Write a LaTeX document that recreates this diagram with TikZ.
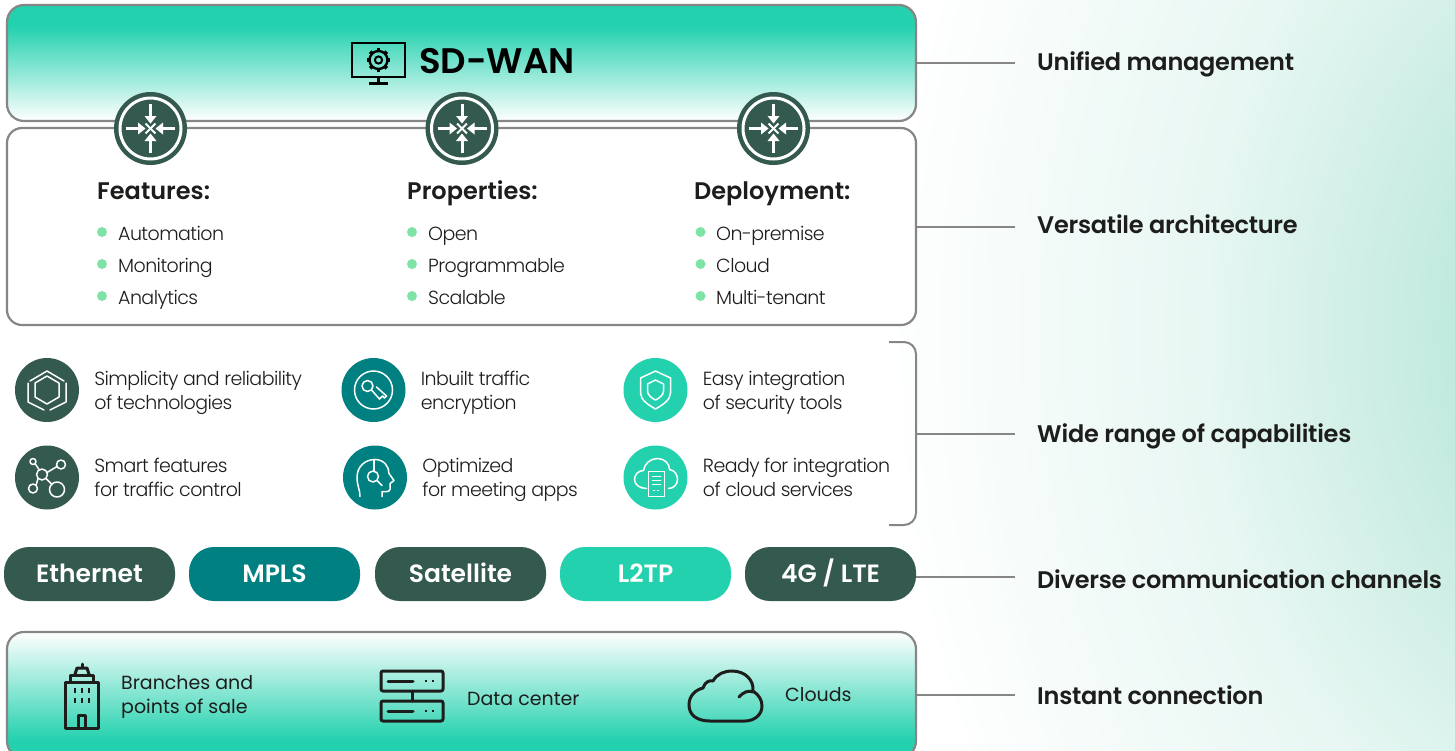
\documentclass[tikz,border=0pt]{standalone}
\usepackage{fontspec}
\setmainfont{Poppins}[UprightFont=* Light,BoldFont=* SemiBold]
\newfontfamily\bodyfont{Poppins}[UprightFont=* Light,LetterSpace=-3]
\newfontfamily\labelfont{Poppins}[UprightFont=* SemiBold,LetterSpace=-1]
\newfontfamily\midfont{Poppins}
\usetikzlibrary{positioning}
\definecolor{darkgreen}{HTML}{34594F}
\definecolor{tealgreen}{HTML}{008080}
\definecolor{mintgreen}{HTML}{23D1AE}
\definecolor{bulletgreen}{HTML}{7FE3A8}
\definecolor{linegray}{HTML}{868686}
\definecolor{inkblack}{HTML}{1D1D1B}
\definecolor{glowmint}{HTML}{A4E0CF}
\definecolor{glowpale}{HTML}{E8F7F3}
\pgfdeclareverticalshading{fadedown}{100bp}{color(0bp)=(white); color(25bp)=(white); color(66bp)=(mintgreen); color(100bp)=(mintgreen)}
\pgfdeclareverticalshading{fadeup}{100bp}{color(0bp)=(mintgreen); color(32bp)=(mintgreen); color(75bp)=(white); color(100bp)=(white)}
\pgfdeclareradialshading{backglow}{\pgfpoint{0bp}{0bp}}{color(0bp)=(glowmint); color(14.5bp)=(glowpale); color(25bp)=(white); color(50bp)=(white)}
\tikzset{
    panel/.style={draw=linegray, line width=2.2pt, rounded corners=15pt, minimum width=909pt, inner sep=0pt},
    leader/.style={draw=linegray, line width=2pt},
    channel/.style={rounded corners=25pt, minimum width=171pt, minimum height=54pt, inner sep=0pt, text height=16.5pt, text depth=0pt, text=white, font=\fontsize{25}{28}\selectfont\bfseries},
    capicon/.style={circle, minimum size=64pt, inner sep=0pt},
    router/.style={circle, fill=darkgreen, minimum size=73pt, inner sep=0pt},
    captext/.style={right=15pt of #1, yshift=-2.5pt, inner sep=0pt, align=left, text=inkblack, font=\fontsize{19}{24}\selectfont\bodyfont},
    heading/.style={anchor=base west, inner sep=0pt, text=inkblack, font=\fontsize{24}{28}\selectfont\bfseries},
    item/.style={anchor=base west, inner sep=0pt, text=inkblack, font=\fontsize{19}{24}\selectfont\bodyfont},
    bullet/.style={circle, fill=bulletgreen, minimum size=10pt, inner sep=0pt},
    sidelabel/.style={anchor=base west, inner sep=0pt, text=inkblack, font=\fontsize{24}{28}\selectfont\labelfont},
    sitetext/.style={anchor=base west, inner sep=0pt, align=left, text=inkblack, font=\fontsize{19}{24}\selectfont\midfont},
    iconline/.style={draw=white, line width=1.5pt, line join=round, line cap=round},
    siteline/.style={draw=inkblack, line width=3pt, line join=round, line cap=round},
    routerpic/.pic={
        \draw[white, line width=3pt] (0,0) circle[radius=30.5];
        \foreach \a in {0,90,180,270} {
            \draw[white, line width=3pt, rotate=\a] (24.5,0) -- (12,0);
            \fill[white, rotate=\a] (12.5,-6) -- (12.5,6) -- (5,0) -- cycle;
        }
        \foreach \a in {45,135,225,315}
            \draw[white, line width=2pt, rotate=\a] (0,0) -- (7,0);
    },
    hexpic/.pic={
        \draw[iconline] (0,-14) -- (12,-7) -- (12,7) -- (0,14) -- (-12,7) -- (-12,-7) -- cycle;
        \draw[iconline] (-17,-9) -- (0,-19) -- (17,-9);
        \draw[iconline] (-19,-7) -- (-19,12) -- (-3,20);
        \draw[iconline] (19,-7) -- (19,12) -- (3,20);
    },
    keypic/.pic={
        \draw[iconline] (0,0) circle[radius=19];
        \draw[iconline] (-6,-4) circle[radius=5.5];
        \draw[iconline] (-2,0) -- (6,9) -- (9,6) -- (11,8) -- (13,6) -- (3,-3);
    },
    netpic/.pic={
        \draw[iconline] (-5,-3) circle[radius=5.5];
        \draw[iconline] (-14,-16) circle[radius=3];
        \draw[iconline] (14,-13) circle[radius=4.5];
        \draw[iconline] (-14,11) circle[radius=4.5];
        \draw[iconline] (10,12) circle[radius=7.5];
        \draw[iconline] (-8,-8) -- (-12,-14);
        \draw[iconline] (0,-5) -- (10,-11);
        \draw[iconline] (-9,1) -- (-11,8);
        \draw[iconline] (-1,1) -- (5,7);
    },
    headpic/.pic={
        \draw[iconline] (-15,19) .. controls (-15,12) and (-18,8) .. (-18,0) .. controls (-18,-11) and (-10,-18) .. (0,-18) .. controls (9,-18) and (14,-11) .. (14,-4) -- (19,3) -- (15,6) -- (15,12) .. controls (14,15) and (10,14) .. (7,14) -- (7,19);
        \draw[iconline] (-1,-18) -- (-1,-6);
        \draw[iconline] (-2,-1) circle[radius=5.5];
        \draw[iconline] (2,3) -- (7,8);
    },
    shieldpic/.pic={
        \draw[iconline] (0,-19) -- (15,-12) -- (15,3) .. controls (15,10) and (7,15) .. (0,19) .. controls (-7,15) and (-15,10) .. (-15,3) -- (-15,-12) -- cycle;
        \draw[iconline] (0,-10) -- (8,-6) -- (8,1) .. controls (8,5) and (4,8) .. (0,10) .. controls (-4,8) and (-8,5) .. (-8,1) -- (-8,-6) -- cycle;
    },
    cloudpic/.pic={
        \draw[iconline] (-9,11) .. controls (-16,11) and (-21,7) .. (-21,2) .. controls (-21,-3) and (-17,-7) .. (-12,-7) .. controls (-11,-14) and (-5,-19) .. (2,-19) .. controls (9,-19) and (14,-14) .. (14,-8) .. controls (20,-7) and (22,-2) .. (22,2) .. controls (22,7) and (18,11) .. (13,11);
        \draw[iconline, fill=mintgreen] (-7,-6) rectangle (9,19);
        \draw[iconline] (-3,-1) -- (5,-1) (-3,3) -- (5,3) (-3,7) -- (5,7) (-2,13) -- (-1,13) (2,13) -- (3,13);
    },
    gearpic/.pic={
        \draw[black, line width=2.4pt] (0,0) circle[radius=9];
        \draw[black, line width=2pt] (0,0) circle[radius=3.6];
        \foreach \a in {0,45,...,315}
            \draw[black, line width=3.6pt, rotate=\a] (9,0) -- (11.8,0);
    },
}
\begin{document}
\begin{tikzpicture}[x=1pt, y=-1pt]
    \useasboundingbox (0,0) rectangle (1455,750);
    % page background
    \begin{scope}
        \clip (0,0) rectangle (1455,750);
        \fill[white] (0,0) rectangle (1455,750);
        \shade[shading=backglow] (1640,330) ellipse [x radius=760, y radius=1000];
    \end{scope}

    % the three panels
    \node [panel, shading=fadedown, minimum height=116pt, rounded corners=17pt] (sdwan) at (461.5,63) {};
    \node [panel, fill=white, minimum height=197pt] (stack) at (461.5,226.5) {};
    \begin{scope}
        \clip (0,600) rectangle (1455,750);
        \node [panel, shading=fadeup, minimum height=126pt, rounded corners=17pt] (sites) at (461.5,695) {};
    \end{scope}

    % title
    \node [anchor=base west, inner sep=0pt, font=\fontsize{35.5}{40}\selectfont\bfseries, text=black] (title) at (419,73) {SD-WAN};
    \draw[black, line width=2.6pt] (352,43) rectangle (405,77);
    \draw[black, line width=2.6pt] (378.5,77) -- (378.5,83) (369,83.5) -- (388,83.5);
    \pic at (378.5,60) {gearpic};

    % routers on the seam
    \node [router] (router1) at (150.5,128.5) {};
    \node [router] (router2) at (462,128.5) {};
    \node [router] (router3) at (773.5,128.5) {};
    \pic at (router1) {routerpic};
    \pic at (router2) {routerpic};
    \pic at (router3) {routerpic};

    % columns in the stack panel
    \node [heading] (features) at (97,199) {Features:};
    \node [heading] (properties) at (407,199) {Properties:};
    \node [heading] (deployment) at (694,199) {Deployment:};
    \foreach \x/\t/\tx/\a/\b/\c in {102/118/f/Automation/Monitoring/Analytics, 412/428/p/Open/Programmable/Scalable, 700.5/716/d/On-premise/Cloud/Multi-tenant} {
        \node [bullet] (bullet\tx1) at (\x,232) {};
        \node [bullet] (bullet\tx2) at (\x,264) {};
        \node [bullet] (bullet\tx3) at (\x,296) {};
        \node [item] (item\tx1) at (\t,240) {\a};
        \node [item] (item\tx2) at (\t,272) {\b};
        \node [item] (item\tx3) at (\t,304) {\c};
    }

    % capabilities
    \node [capicon, fill=darkgreen] (simple) at (47,390) {};
    \node [capicon, fill=tealgreen] (crypt) at (373.5,390) {};
    \node [capicon, fill=mintgreen] (secure) at (655.5,390) {};
    \node [capicon, fill=darkgreen] (smart) at (47,477.5) {};
    \node [capicon, fill=tealgreen] (meeting) at (375,477.5) {};
    \node [capicon, fill=mintgreen] (cloudready) at (655.5,477.5) {};
    \pic at (simple) {hexpic};
    \pic at (crypt) {keypic};
    \pic at (secure) {shieldpic};
    \pic at (smart) {netpic};
    \pic at (meeting) {headpic};
    \pic at (cloudready) {cloudpic};
    \node [captext=simple] (simpletext) {\strut Simplicity and reliability\\\strut of technologies};
    \node [captext=crypt] (crypttext) {\strut Inbuilt traffic\\\strut encryption};
    \node [captext=secure] (securetext) {\strut Easy integration\\\strut of security tools};
    \node [captext=smart] (smarttext) {\strut Smart features\\\strut for traffic control};
    \node [captext=meeting] (meetingtext) {\strut Optimized\\\strut for meeting apps};
    \node [captext=cloudready] (cloudreadytext) {\strut Ready for integration\\\strut of cloud services};
    \draw[leader, rounded corners=12pt] (889,342) -- (916,342) -- (916,525) -- (889,525);
    \coordinate (bracket) at (916,434);

    % channels
    \node [channel, fill=darkgreen] (ethernet) at (89.5,574) {Ethernet};
    \node [channel, fill=tealgreen] (mpls) at (274.5,574) {MPLS};
    \node [channel, fill=darkgreen] (satellite) at (460.5,574) {Satellite};
    \node [channel, fill=mintgreen] (ltp) at (645.5,574) {L2TP};
    \node [channel, fill=darkgreen] (lte) at (830.5,574) {4G / LTE};
    \coordinate (ltetap) at (916,576.5);

    % sites
    \draw[siteline] (65,682) rectangle (98,728);
    \draw[siteline] (70,681) -- (70,675) -- (93,675) -- (93,681);
    \draw[siteline] (75,674) -- (77,668) -- (87,668) -- (89,674);
    \draw[siteline] (82,664) -- (82,667);
    \foreach \wx in {75,82,89} \foreach \wy in {690,700}
        \draw[inkblack, line width=2.4pt] (\wx,\wy-2.5) -- (\wx,\wy+2.5);
    \draw[siteline] (78,727) -- (78,715) -- (85,715) -- (85,727);
    \node [sitetext, anchor=west] (branches) at (121,697) {\strut Branches and\\\strut points of sale};

    \draw[siteline, rounded corners=2pt] (381,671) rectangle (443,691);
    \draw[siteline, rounded corners=2pt] (381,701) rectangle (443,721);
    \draw[siteline] (412,691) -- (412,701);
    \draw[siteline] (388,681) -- (413,681) (388,711) -- (413,711);
    \foreach \sy in {681,711}
        \draw[inkblack, line width=2.4pt] (425,\sy) -- (427,\sy) (432,\sy) -- (434,\sy);
    \node [sitetext] (datacenter) at (467,705) {Data center};

    \draw[siteline] (710,721) .. controls (697,721) and (689,715) .. (689,705) .. controls (689,696) and (695,690) .. (703,688) .. controls (705,682) and (709,680) .. (713,681) .. controls (717,674) and (724,671) .. (732,671) .. controls (745,671) and (754,680) .. (753,691) .. controls (759,695) and (762,700) .. (762,706) .. controls (762,715) and (754,721) .. (745,721) -- cycle;
    \draw[siteline] (739,697) .. controls (743,692) and (749,690) .. (753,692);
    \node [sitetext] (clouds) at (785,701) {Clouds};

    % side labels
    \node [sidelabel] (unified) at (1037,70) {Unified management};
    \node [sidelabel] (versatile) at (1037,233) {Versatile architecture};
    \node [sidelabel] (capabilities) at (1037,442.5) {Wide range of capabilities};
    \node [sidelabel] (diverse) at (1037,588.5) {Diverse communication channels};
    \node [sidelabel] (instant) at (1037,704) {Instant connection};
    \draw[leader, shorten >=22pt] (sdwan.east) -- (sdwan.east -| unified.west);
    \draw[leader, shorten >=22pt] (stack.east) -- (stack.east -| versatile.west);
    \draw[leader, shorten >=22pt] (bracket) -- (bracket -| capabilities.west);
    \draw[leader, shorten >=22pt] (ltetap) -- (ltetap -| diverse.west);
    \draw[leader, shorten >=22pt] (sites.east) -- (sites.east -| instant.west);
\end{tikzpicture}
\end{document}
